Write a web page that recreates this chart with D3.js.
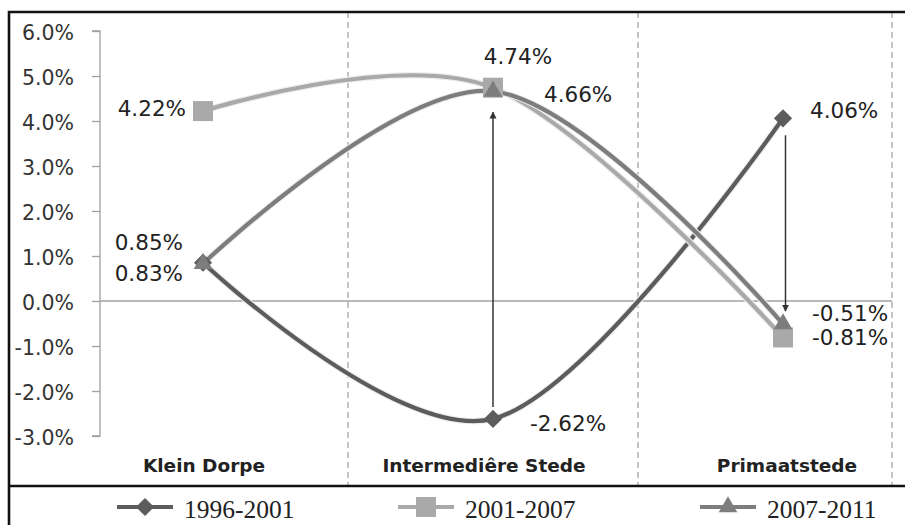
<!DOCTYPE html>
<html>
<head>
    <meta charset="utf-8">
    <title>Groei per nedersettingstipe</title>
    <script src="https://d3js.org/d3.v7.min.js"></script>
    <style>
        body { margin: 0; background: #fff; }
        svg { display: block; }
        .tick-label { font-family: "DejaVu Sans", sans-serif; font-size: 20.5px; fill: #333; }
        .data-label { font-family: "DejaVu Sans", sans-serif; font-size: 21.5px; fill: #222; }
        .cat-label { font-family: "DejaVu Sans", sans-serif; font-size: 18.5px; font-weight: bold; fill: #222; }
        .legend-label { font-family: "Liberation Serif", "Times New Roman", serif; font-size: 25.5px; fill: #222; }
    </style>
</head>
<body>
<svg width="905" height="525"></svg>
<script>
    // categories and series
    const categories = ["Klein Dorpe", "Intermediêre Stede", "Primaatstede"];
    const seriesNames = ["1996-2001", "2001-2007", "2007-2011"];
    const values1996 = [0.85, -2.62, 4.06];
    const values2001 = [4.22, 4.74, -0.81];
    const values2007 = [0.83, 4.66, -0.51];
    const yTicks = [6, 5, 4, 3, 2, 1, 0, -1, -2, -3];

    // look of each series (colour + marker)
    const seriesStyle = [
        { color: "#5c5c5c", symbol: "diamond" },
        { color: "#a9a9a9", symbol: "square" },
        { color: "#7d7d7d", symbol: "triangle" }
    ];

    // where the value labels sit relative to their point [dx, dy, anchor]
    const labelPlacement = [
        [[-20, -20, "end"], [37, 4, "start"], [27, -8, "start"]],
        [[-17, -3, "end"], [25, -31, "middle"], [29, 0, "start"]],
        [[-20, 10, "end"], [51, 3, "start"], [29, -11, "start"]]
    ];

    const svg = d3.select("svg");
    const plotLeft = 100, plotRight = 892, frameTop = 12, frameDivider = 486;

    const x = d3.scalePoint().domain(categories).range([203, 783]);
    const y = d3.scaleLinear().domain([-3, 6]).range([436, 31]);
    const fmt = v => v.toFixed(2) + "%";

    const series = [values1996, values2001, values2007].map((vals, i) => ({
        name: seriesNames[i],
        style: seriesStyle[i],
        points: vals.map((v, j) => ({ cat: categories[j], v: v, j: j }))
    }));

    // vertical dashed separators between categories + right edge
    const step = x.step();
    const sepX = categories.slice(1).map(c => x(c) - step / 2).concat([plotRight]);
    svg.selectAll("line.sep").data(sepX).enter().append("line")
        .attr("x1", d => d).attr("x2", d => d)
        .attr("y1", frameTop).attr("y2", frameDivider)
        .attr("stroke", "#a6a6a6").attr("stroke-width", 1.3)
        .attr("stroke-dasharray", "6,4");

    // y axis (ticks on the left, grey line)
    const yAxis = svg.append("g").attr("transform", `translate(${plotLeft},0)`)
        .call(d3.axisLeft(y).tickValues(yTicks).tickSize(8).tickFormat(d => d.toFixed(1) + "%"));
    yAxis.select(".domain").attr("stroke", "#a0a0a0").attr("stroke-width", 1.3)
        .attr("d", `M-8,${y(6)}H0V${y(-3)}H-8`);
    yAxis.selectAll(".tick line").attr("stroke", "#a0a0a0").attr("stroke-width", 1.3);
    yAxis.selectAll(".tick text").attr("class", "tick-label")
        .attr("x", -26).attr("dy", "0.4em").attr("font-size", null).attr("font-family", null);
    yAxis.attr("font-size", null).attr("font-family", null);

    // zero line
    svg.append("line")
        .attr("x1", plotLeft).attr("x2", plotRight)
        .attr("y1", y(0)).attr("y2", y(0))
        .attr("stroke", "#a0a0a0").attr("stroke-width", 1.5);

    // smoothed lines (Excel-style)
    const line = d3.line()
        .x(d => x(d.cat)).y(d => y(d.v))
        .curve(d3.curveCardinal.tension(0));

    series.forEach(s => {
        svg.append("path").datum(s.points)
            .attr("d", line).attr("fill", "none")
            .attr("stroke", "#eeeeee").attr("stroke-width", 6.5);
        svg.append("path").datum(s.points)
            .attr("d", line).attr("fill", "none")
            .attr("stroke", s.style.color).attr("stroke-width", 4.2)
            .attr("stroke-linecap", "round");
    });

    // markers
    function markerPath(kind) {
        if (kind === "diamond") return d3.symbol(d3.symbolSquare, 165)();
        if (kind === "square") return d3.symbol(d3.symbolSquare, 400)();
        return d3.symbol(d3.symbolTriangle, 150)();
    }
    series.forEach(s => {
        svg.selectAll(null).data(s.points).enter().append("path")
            .attr("d", markerPath(s.style.symbol))
            .attr("transform", d => `translate(${x(d.cat)},${y(d.v)})` + (s.style.symbol === "diamond" ? " rotate(45)" : ""))
            .attr("fill", s.style.color);
    });

    // arrows: change from 1996-2001 to 2007-2011
    const defs = svg.append("defs");
    defs.append("marker").attr("id", "arrowhead")
        .attr("viewBox", "0 0 10 10").attr("refX", 9).attr("refY", 5)
        .attr("markerWidth", 7).attr("markerHeight", 9).attr("markerUnits", "userSpaceOnUse")
        .attr("orient", "auto")
        .append("path").attr("d", "M0,0L10,5L0,10Z").attr("fill", "#333");

    const arrowCats = [1, 2];
    arrowCats.forEach(j => {
        const from = values1996[j], to = values2007[j];
        const dir = to > from ? -1 : 1;
        const y1 = y(from) + dir * (dir < 0 ? 12 : 17);
        const y2 = y(to) - dir * (dir < 0 ? 21 : 13);
        const xx = x(categories[j]) + (j === 2 ? 2.5 : 0);
        svg.append("line")
            .attr("x1", xx).attr("x2", xx).attr("y1", y1).attr("y2", y2)
            .attr("stroke", "#333").attr("stroke-width", 1.5)
            .attr("marker-end", "url(#arrowhead)");
    });

    // value labels
    series.forEach((s, i) => {
        svg.selectAll(null).data(s.points).enter().append("text")
            .attr("class", "data-label")
            .attr("x", d => x(d.cat) + labelPlacement[i][d.j][0])
            .attr("y", d => y(d.v) + labelPlacement[i][d.j][1])
            .attr("dy", "0.36em")
            .attr("text-anchor", d => labelPlacement[i][d.j][2])
            .text(d => fmt(d.v));
    });

    // category labels
    const catShift = [1, -9, 4];
    svg.selectAll("text.cat-label").data(categories).enter().append("text")
        .attr("class", "cat-label")
        .attr("x", (d, i) => x(d) + catShift[i])
        .attr("y", 472)
        .attr("text-anchor", "middle")
        .text(d => d);

    // frame
    svg.append("path")
        .attr("d", `M9,525V${frameTop}H905M9,${frameDivider}H905`)
        .attr("fill", "none").attr("stroke", "#111").attr("stroke-width", 2.6);

    // legend
    const legendX = [117, 398, 700];
    const legend = svg.selectAll("g.legend").data(series).enter().append("g")
        .attr("transform", (d, i) => `translate(${legendX[i]},507)`);
    legend.append("line").attr("x1", 0).attr("x2", 56)
        .attr("stroke", d => d.style.color).attr("stroke-width", 4.2);
    legend.append("path")
        .attr("d", d => markerPath(d.style.symbol))
        .attr("transform", d => "translate(28,0)" + (d.style.symbol === "diamond" ? " rotate(45)" : ""))
        .attr("fill", d => d.style.color);
    legend.append("text").attr("class", "legend-label")
        .attr("x", 67).attr("y", 11)
        .text(d => d.name);
</script>
</body>
</html>
